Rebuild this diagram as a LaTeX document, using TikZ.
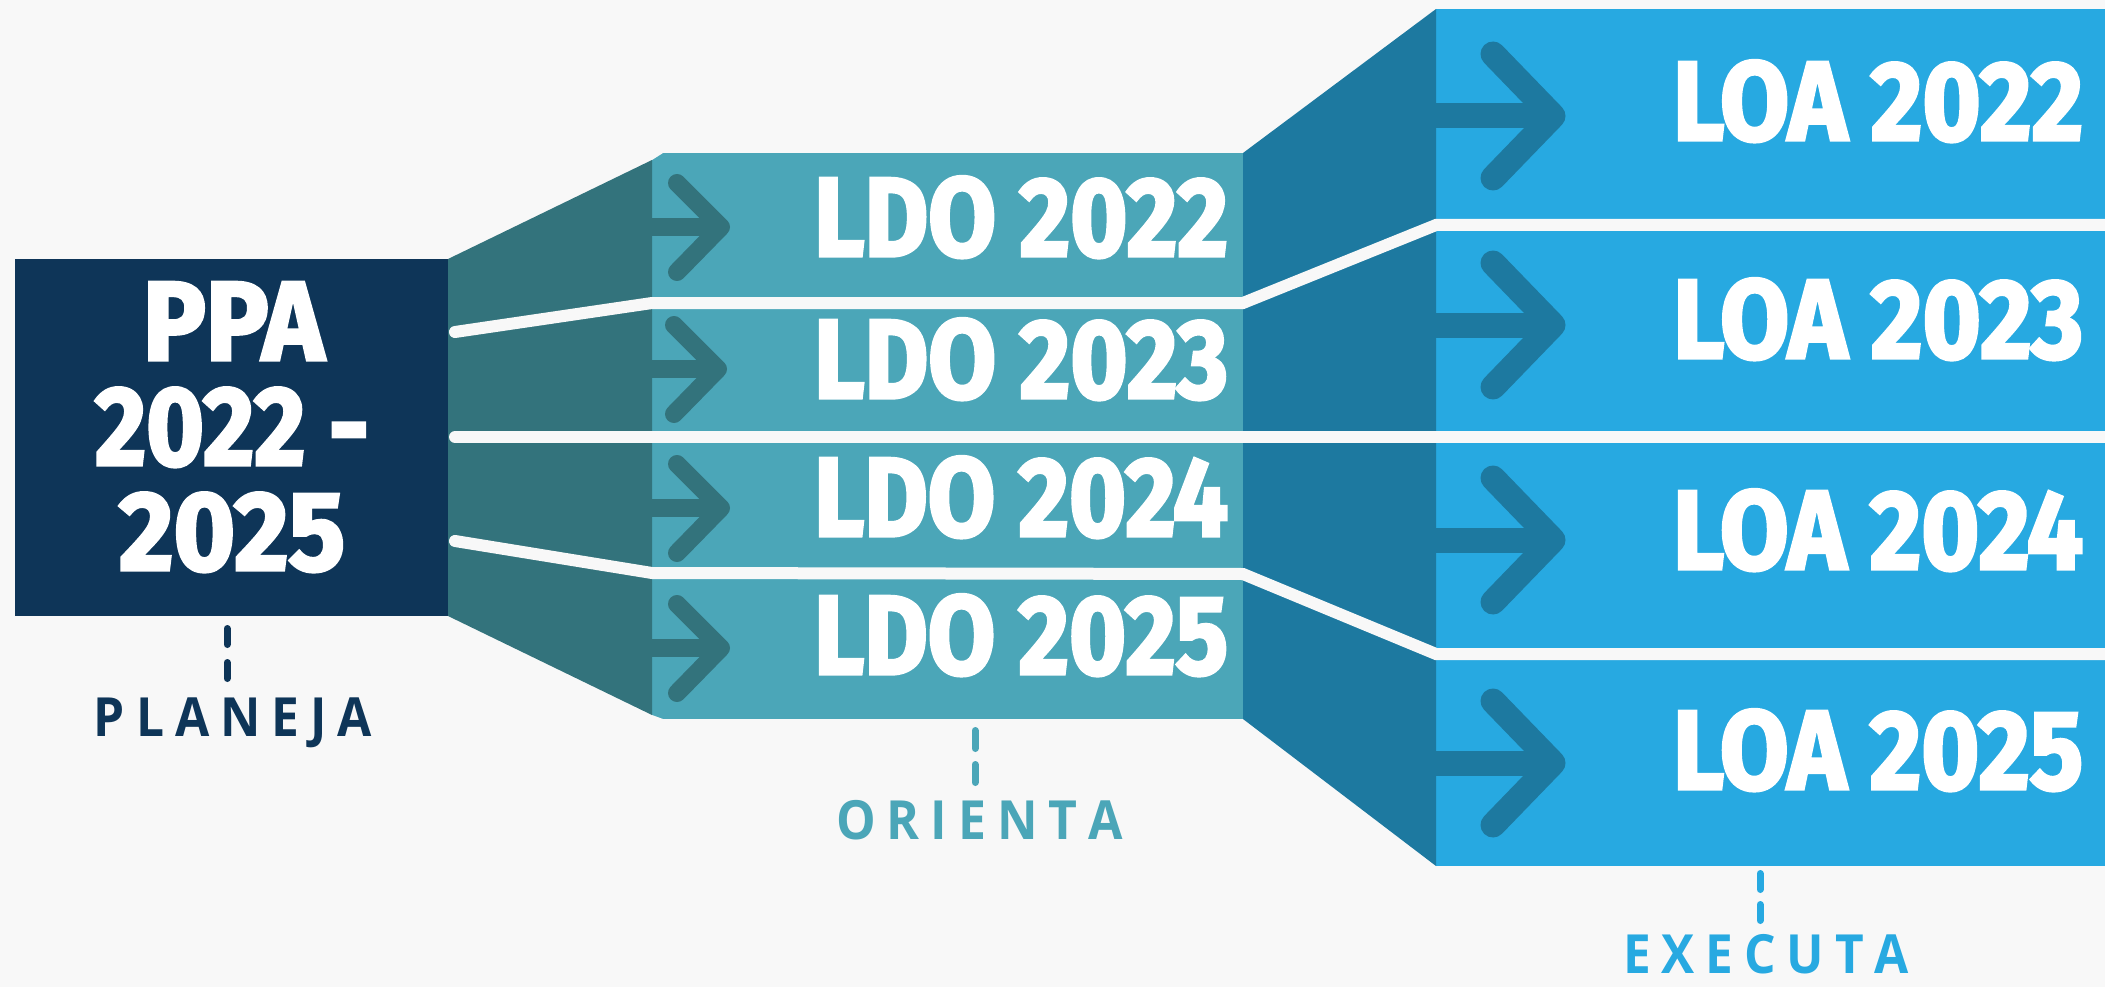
\documentclass[tikz,border=0pt]{standalone}
\usepackage{fontspec}
\usepackage{graphicx}
\newfontfamily\numfont{Fira Sans}[BoldFeatures={FakeBold=3}]
\newfontfamily\lblfont{Open Sans}
\definecolor{bgc}{HTML}{F8F8F8}
\definecolor{navy}{HTML}{0E3558}
\definecolor{tealdk}{HTML}{33737C}
\definecolor{ldoc}{HTML}{4BA6B8}
\definecolor{bluedk}{HTML}{1D79A0}
\definecolor{loac}{HTML}{27A9E1}
\newcommand\fitw[2]{\resizebox{#1}{\height}{#2}}
\newcommand\ls{\kern0.22em}
\begin{document}
\begin{tikzpicture}[x=1pt,y=-1pt,
  box/.style={draw=none, inner sep=0pt, outer sep=0pt, anchor=north west},
  big/.style={inner sep=0pt, anchor=base, text=white, font=\numfont\bfseries\fontsize{112}{112}\selectfont},
  lbl/.style={inner sep=0pt, anchor=base, font=\lblfont\bfseries\fontsize{54}{54}\selectfont},
  wline/.style={draw=bgc, line width=12pt, line cap=round, line join=miter},
  chev/.style={line width=#1, line cap=round, line join=round},
  dashmark/.style={line width=7pt, line cap=round}]
\useasboundingbox (0,0) rectangle (2105,987);
\fill[bgc] (0,0) rectangle (2105,987);

% boxes
\node[box, fill=navy, minimum width=433pt, minimum height=357pt] (ppa) at (15,259) {};
\node[box, fill=ldoc, minimum width=591pt, minimum height=566pt] (ldo) at (652,153) {};
\node[box, fill=loac, minimum width=669pt, minimum height=857pt] (loa) at (1436,9) {};
\fill[bgc] (652,153) -- (663,153) -- (652,160) -- cycle;
\fill[bgc] (652,719) -- (663,719) -- (652,715) -- cycle;

% side faces
\fill[tealdk] (ppa.north east) -- (652,160) -- (652,715) -- (ppa.south east) -- cycle;
\fill[bluedk] (ldo.north east) -- (loa.north west) -- (loa.south west) -- (ldo.south east) -- cycle;

% arrows LDO
\foreach \ty/\tx in {227/721, 369/718, 508/721, 648/721}{
  \fill[tealdk] (652,\ty-9) rectangle (\tx-6,\ty+9);
  \draw[tealdk, chev=18pt] (\tx-44,\ty-44) -- (\tx,\ty) -- (\tx-44,\ty+45);
}
% arrows LOA
\foreach \ty in {116, 325, 540, 763}{
  \fill[bluedk] (1436,\ty-12.5) rectangle (1545,\ty+12.5);
  \draw[bluedk, chev=25pt] (1493,\ty-62) -- (1553,\ty) -- (1493,\ty+62);
}

% white separators
\draw[wline] (455,332) -- (652,303) -- (1243,303) -- (1436,225) -- (2112,225);
\draw[wline] (455,437) -- (2112,437);
\draw[wline] (455,541) -- (652,573) -- (1243,574) -- (1436,654) -- (2112,654);

% texts
\node[big] (ppa1) at (233.5,360) {\fitw{181pt}{PPA}};
\node[big] (ppa2) at (232,465) {\fitw{274pt}{2022 -}};
\node[big] (ppa3) at (232,570) {\fitw{226pt}{2025}};

\node[big] (ldo1) at (1021,256) {\fitw{414pt}{LDO 2022}};
\node[big] (ldo2) at (1021,398) {\fitw{414pt}{LDO 2023}};
\node[big] (ldo3) at (1021,536) {\fitw{414pt}{LDO 2024}};
\node[big] (ldo4) at (1021,674) {\fitw{414pt}{LDO 2025}};

\node[big] (loa1) at (1878,140) {\fitw{410pt}{LOA 2022}};
\node[big] (loa2) at (1878,358) {\fitw{410pt}{LOA 2023}};
\node[big] (loa3) at (1878,569) {\fitw{410pt}{LOA 2024}};
\node[big] (loa4) at (1878,789) {\fitw{410pt}{LOA 2025}};

% dashed ticks
\draw[dashmark, navy] (227,628.5) -- (227,644.5);
\draw[dashmark, navy] (227,662.5) -- (227,678.5);
\draw[dashmark, ldoc] (975,730.5) -- (975,748.5);
\draw[dashmark, ldoc] (975,764.5) -- (975,782.5);
\draw[dashmark, loac] (1760,873.5) -- (1760,889.5);
\draw[dashmark, loac] (1760,904.5) -- (1760,920.5);

% labels
\node[lbl, text=navy] (planeja) at (233,736) {\fitw{278pt}{P\ls L\ls A\ls N\ls E\ls J\ls A}};
\node[lbl, text=ldoc] (orienta) at (979.5,839) {\fitw{287pt}{O\ls R\ls I\ls E\ls N\ls T\ls A}};
\node[lbl, text=loac] (executa) at (1766,973) {\fitw{286pt}{E\ls X\ls E\ls C\ls U\ls T\ls A}};
\end{tikzpicture}
\end{document}
